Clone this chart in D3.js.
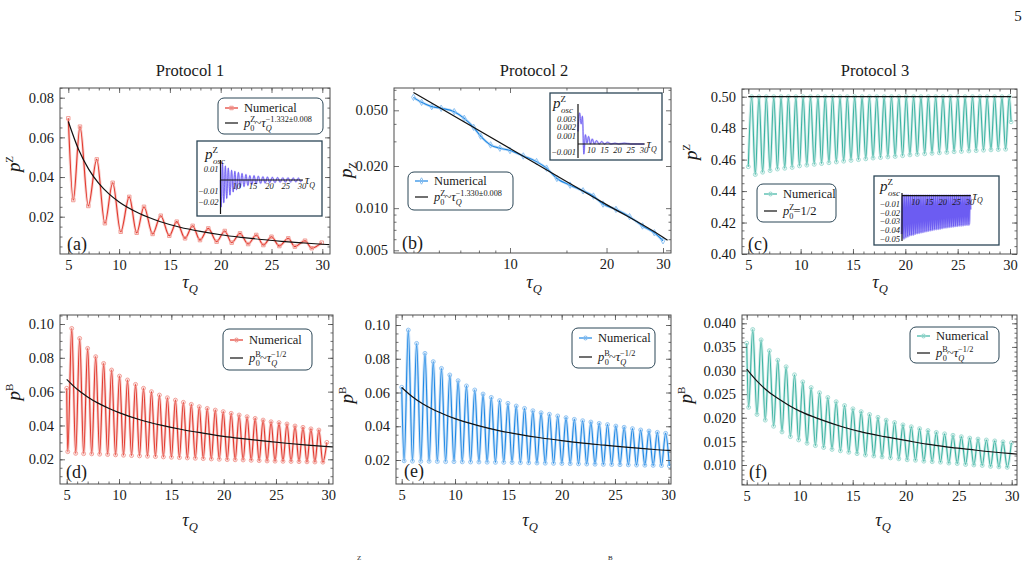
<!DOCTYPE html>
<html>
<head>
<meta charset="utf-8">
<script src="https://cdn.jsdelivr.net/npm/d3@7"></script>
<style>
  body { margin: 0; background: #fff; }
  svg { display: block; }
</style>
</head>
<body>
<svg id="fig" width="1028" height="562"></svg>
<script>
const SERIF = "'Liberation Serif','Times New Roman',serif";
const INK = "#1a1a1a";
const FRAME = "#4d4d4d";
const LEGBORDER = "#2b4656";
const PURPLE = "#6c5cf2";
const RED = { line: "#e2372c", halo: "#f0958d" };
const BLUE = { line: "#1e88e5", halo: "#86bdf0" };
const TEAL = { line: "#3bb3a2", halo: "#98d8ce" };

// ---------- data: protocol 1, p^Z (a) ----------
const aTau = [5.0, 5.49, 6.15, 6.97, 7.8, 8.6, 9.37, 10.16, 11.0, 11.73, 12.45, 13.3, 14.1, 14.94, 15.67, 16.49, 17.24, 17.96, 18.78, 19.6, 20.4, 21.08, 21.9, 22.7, 23.5, 24.2, 25.0, 25.77, 26.65, 27.3, 28.3, 28.96, 29.94];
const aP = [0.0696, 0.0284, 0.0654, 0.0254, 0.0489, 0.0167, 0.0371, 0.0124, 0.0300, 0.0119, 0.0250, 0.0113, 0.0205, 0.0104, 0.0175, 0.0091, 0.0154, 0.0082, 0.0141, 0.0074, 0.0128, 0.0069, 0.0116, 0.0062, 0.0108, 0.0057, 0.0099, 0.0052, 0.0091, 0.0049, 0.0079, 0.0041, 0.0069];
const aFitTau = [5, 6, 7, 8, 9, 10, 12, 14, 16, 18, 20, 22, 24, 26, 28, 30, 30.7];
const aFitP = [0.068, 0.0540, 0.0440, 0.0368, 0.0315, 0.0274, 0.0216, 0.0176, 0.0147, 0.0126, 0.0109, 0.0096, 0.0085, 0.0076, 0.0068, 0.0061, 0.0059];
const aOscTau = [5.0, 5.2, 5.6, 6.0, 6.5, 6.9, 7.4, 7.9, 8.4, 8.9, 9.4, 9.9, 10.5, 11.0, 11.6, 12.2, 12.8, 13.4, 14.0, 14.6, 15.3, 15.9, 16.6, 17.3, 18.0, 18.7, 19.4, 20.1, 20.9, 21.7, 22.5, 23.3, 24.1, 24.9, 25.7, 26.5, 27.3, 28.1, 28.9, 29.6, 30.0];
const aOscP = [0.000, -0.025, 0.016, -0.021, 0.013, -0.017, 0.011, -0.014, 0.009, -0.011, 0.008, -0.009, 0.007, -0.007, 0.006, -0.006, 0.005, -0.005, 0.004, -0.004, 0.004, -0.0035, 0.0035, -0.003, 0.003, -0.0028, 0.0028, -0.0025, 0.0025, -0.0023, 0.0023, -0.002, 0.002, -0.002, 0.002, -0.0018, 0.0018, -0.0017, 0.0017, -0.0015, 0.000];

// ---------- data: protocol 2, p_Z (b), log-log ----------
const bTau = [5, 5.3, 5.7, 6.1, 6.7, 7.2, 7.7, 8.1, 8.7, 9.3, 10, 11, 12.1, 13, 14, 15.4, 16.9, 18.2, 19.5, 21.4, 23.6, 25.9, 28.2, 30];
const bP = [0.0619, 0.057, 0.0531, 0.0517, 0.0489, 0.0438, 0.0378, 0.0327, 0.0283, 0.0268, 0.0258, 0.0236, 0.0215, 0.0193, 0.0163, 0.0146, 0.0133, 0.0122, 0.0107, 0.0098, 0.0087, 0.00746, 0.00667, 0.00585];
const bFitTau = [5, 10, 15, 20, 30, 31];
const bFitP = [0.067, 0.0267, 0.0155, 0.0106, 0.0062, 0.0059];
const bOscTau = [5.0, 5.6, 6.2, 6.7, 7.2, 7.8, 8.4, 9.0, 9.7, 10.4, 11.2, 12.0, 13.0, 14.0, 15.0, 16.2, 17.5, 19.0, 20.5, 22.5, 25.0, 27.5, 30.0];
const bOscP = [0.0015, 0.0037, 0.0024, 0.0033, -0.0012, 0.0011, 0.0001, 0.0009, 0.0, 0.0006, 0.0, 0.0004, 0.0, 0.0003, 0.0, 0.0002, 0.0, 0.0001, 0.0, 0.0001, 0.0, 0.0, 0.0];

// ---------- data: protocol 3, p^Z (c) ----------
const cStart = [5.0, 0.4555];
const cEnd = [30.1, 0.484];
const cPeakTau = [5.32, 6.02, 6.72, 7.43, 8.13, 8.83, 9.54, 10.24, 10.94, 11.65, 12.35, 13.05, 13.76, 14.46, 15.16, 15.87, 16.57, 17.27, 17.98, 18.68, 19.38, 20.09, 20.79, 21.49, 22.20, 22.90, 23.60, 24.31, 25.01, 25.71, 26.42, 27.12, 27.82, 28.53, 29.23, 29.93];
const cPeakP = [0.500, 0.500, 0.500, 0.500, 0.500, 0.500, 0.500, 0.500, 0.500, 0.500, 0.500, 0.500, 0.500, 0.500, 0.500, 0.500, 0.500, 0.500, 0.500, 0.500, 0.500, 0.500, 0.500, 0.500, 0.500, 0.500, 0.500, 0.500, 0.500, 0.500, 0.500, 0.500, 0.500, 0.500, 0.500, 0.500];
const cTroughTau = [5.67, 6.37, 7.08, 7.78, 8.48, 9.19, 9.89, 10.59, 11.30, 12.00, 12.70, 13.41, 14.11, 14.81, 15.52, 16.22, 16.92, 17.63, 18.33, 19.03, 19.74, 20.44, 21.14, 21.85, 22.55, 23.25, 23.96, 24.66, 25.36, 26.07, 26.77, 27.47, 28.18, 28.88, 29.58];
const cTroughP = [0.4505, 0.4520, 0.4530, 0.4540, 0.4545, 0.4550, 0.4560, 0.4565, 0.4570, 0.4575, 0.4580, 0.4585, 0.4590, 0.4595, 0.4600, 0.4605, 0.4610, 0.4613, 0.4617, 0.4620, 0.4625, 0.4630, 0.4633, 0.4637, 0.4640, 0.4643, 0.4646, 0.4650, 0.4652, 0.4655, 0.4657, 0.4660, 0.4662, 0.4664, 0.4666];
const cFitTau = [5, 30.1];
const cFitP = [0.5, 0.5];
const cP0 = 0.5;

// ---------- data: protocol 1, p^B (d) ----------
const dStart = [5.0, 0.062];
const dEnd = [29.86, 0.030];
const dPeakTau = [5.48, 6.24, 7.00, 7.77, 8.53, 9.29, 10.05, 10.81, 11.58, 12.34, 13.10, 13.86, 14.62, 15.39, 16.15, 16.91, 17.67, 18.43, 19.20, 19.96, 20.72, 21.48, 22.24, 23.01, 23.77, 24.53, 25.29, 26.05, 26.82, 27.58, 28.34, 29.10];
const dPeakP = [0.0974, 0.0915, 0.0856, 0.0807, 0.0767, 0.0728, 0.0692, 0.0669, 0.0643, 0.0620, 0.0600, 0.0580, 0.0564, 0.0550, 0.0537, 0.0525, 0.0511, 0.0501, 0.0491, 0.0482, 0.0472, 0.0462, 0.0452, 0.0442, 0.0432, 0.0422, 0.0417, 0.0409, 0.0397, 0.0389, 0.0380, 0.0373];
const dTroughTau = [5.10, 5.86, 6.62, 7.39, 8.15, 8.91, 9.67, 10.43, 11.20, 11.96, 12.72, 13.48, 14.24, 15.01, 15.77, 16.53, 17.29, 18.05, 18.82, 19.58, 20.34, 21.10, 21.86, 22.63, 23.39, 24.15, 24.91, 25.67, 26.44, 27.20, 27.96, 28.72, 29.48];
const dTroughP = [0.0245, 0.0235, 0.0233, 0.0232, 0.0230, 0.0228, 0.0226, 0.0224, 0.0222, 0.0220, 0.0218, 0.0216, 0.0214, 0.0212, 0.0210, 0.0208, 0.0206, 0.0204, 0.0202, 0.0200, 0.0198, 0.0197, 0.0196, 0.0194, 0.0192, 0.0190, 0.0189, 0.0188, 0.0187, 0.0186, 0.0185, 0.0184, 0.0183];
const dFitTau = [5, 6, 7, 8, 9, 10, 12, 14, 16, 18, 20, 22, 24, 26, 28, 30, 30.7];
const dFitP = [0.0673, 0.0614, 0.0569, 0.0532, 0.0502, 0.0476, 0.0434, 0.0402, 0.0376, 0.0355, 0.0336, 0.0321, 0.0307, 0.0295, 0.0284, 0.0275, 0.0272];

// ---------- data: protocol 2, p^B (e) ----------
const eStart = [5.0, 0.0631];
const ePeakTau = [5.62, 6.40, 7.18, 7.96, 8.73, 9.51, 10.29, 11.07, 11.85, 12.63, 13.40, 14.18, 14.96, 15.74, 16.52, 17.30, 18.07, 18.85, 19.63, 20.41, 21.19, 21.97, 22.74, 23.52, 24.30, 25.08, 25.86, 26.64, 27.41, 28.19, 28.97, 29.75];
const ePeakP = [0.0970, 0.0891, 0.0832, 0.0783, 0.0743, 0.0704, 0.0670, 0.0639, 0.0615, 0.0591, 0.0571, 0.0552, 0.0536, 0.0520, 0.0506, 0.0492, 0.0480, 0.0471, 0.0461, 0.0451, 0.0441, 0.0433, 0.0425, 0.0417, 0.0410, 0.0401, 0.0394, 0.0386, 0.0378, 0.0372, 0.0364, 0.0358];
const eTroughTau = [5.23, 6.01, 6.79, 7.57, 8.34, 9.12, 9.90, 10.68, 11.46, 12.24, 13.01, 13.79, 14.57, 15.35, 16.13, 16.91, 17.68, 18.46, 19.24, 20.02, 20.80, 21.58, 22.35, 23.13, 23.91, 24.69, 25.47, 26.25, 27.02, 27.80, 28.58, 29.36, 30.10];
const eTroughP = [0.0195, 0.0193, 0.0192, 0.0192, 0.0191, 0.0190, 0.0190, 0.0189, 0.0188, 0.0188, 0.0187, 0.0186, 0.0186, 0.0185, 0.0184, 0.0183, 0.0182, 0.0181, 0.0180, 0.0179, 0.0178, 0.0177, 0.0176, 0.0175, 0.0174, 0.0173, 0.0172, 0.0171, 0.0170, 0.0169, 0.0168, 0.0167, 0.0165];
const eFitTau = [5, 6, 7, 8, 9, 10, 12, 14, 16, 18, 20, 22, 24, 26, 28, 30, 30.3];
const eFitP = [0.0630, 0.0575, 0.0532, 0.0498, 0.0470, 0.0445, 0.0407, 0.0376, 0.0352, 0.0332, 0.0315, 0.0300, 0.0288, 0.0276, 0.0266, 0.0257, 0.0256];

// ---------- data: protocol 3, p^B (f) ----------
const fStart = [5.0, 0.0358];
const fPeakTau = [5.57, 6.36, 7.14, 7.93, 8.72, 9.51, 10.29, 11.08, 11.87, 12.65, 13.44, 14.23, 15.02, 15.80, 16.59, 17.38, 18.16, 18.95, 19.74, 20.53, 21.31, 22.10, 22.89, 23.67, 24.46, 25.25, 26.04, 26.82, 27.61, 28.40, 29.18, 29.97];
const fPeakP = [0.0387, 0.0365, 0.0342, 0.0322, 0.0308, 0.0291, 0.0276, 0.0264, 0.0253, 0.0243, 0.0234, 0.0226, 0.0219, 0.0213, 0.0207, 0.0201, 0.0195, 0.0190, 0.0185, 0.0181, 0.0177, 0.0173, 0.0169, 0.0166, 0.0163, 0.0160, 0.0157, 0.0155, 0.0153, 0.0151, 0.0149, 0.0147];
const fTroughTau = [5.18, 5.97, 6.75, 7.54, 8.33, 9.12, 9.90, 10.69, 11.48, 12.26, 13.05, 13.84, 14.63, 15.41, 16.20, 16.99, 17.77, 18.56, 19.35, 20.14, 20.92, 21.71, 22.50, 23.28, 24.07, 24.86, 25.65, 26.43, 27.22, 28.01, 28.79, 29.58];
const fTroughP = [0.0222, 0.0207, 0.0195, 0.0182, 0.0170, 0.0160, 0.0153, 0.0146, 0.0141, 0.0137, 0.0133, 0.0130, 0.0127, 0.0124, 0.0121, 0.0119, 0.0117, 0.0115, 0.0113, 0.0111, 0.0110, 0.0108, 0.0107, 0.0106, 0.0104, 0.0103, 0.0101, 0.0100, 0.0099, 0.0097, 0.0096, 0.0095];
const fFitTau = [5, 6, 7, 8, 9, 10, 12, 14, 16, 18, 20, 22, 24, 26, 28, 30, 30.6];
const fFitP = [0.0303, 0.0277, 0.0256, 0.0240, 0.0226, 0.0214, 0.0196, 0.0181, 0.0169, 0.0160, 0.0152, 0.0144, 0.0138, 0.0133, 0.0128, 0.0124, 0.0123];

// ---------- tick labels ----------
const tauTicks = [5, 10, 15, 20, 25, 30];
const tauLogTicks = [10, 20, 30];
const insetTauTicks = [10, 15, 20, 25, 30];

// ---------- helpers ----------
const svg = d3.select("#fig");
const zip = (t, v) => t.map((d, i) => [d, v[i]]);
const merge = (...parts) => parts.flat().sort((a, b) => a[0] - b[0]);

function mathText(parent, x, y, fs, pieces, anchor) {
  const t = parent.append("text").attr("x", x).attr("y", y)
    .attr("font-family", SERIF).attr("font-size", fs).attr("fill", INK)
    .attr("text-anchor", anchor || "start");
  let lvl = 0;
  pieces.forEach(([txt, o]) => {
    o = o || {};
    const small = o.sup || o.sub;
    const tgt = o.sup ? -fs * 0.42 : o.sub ? fs * 0.3 : 0;
    const s = t.append("tspan").text(txt)
      .attr("dy", tgt - lvl)
      .attr("font-size", small ? fs * (o.k || 0.66) : fs)
      .attr("font-style", o.it ? "italic" : "normal");
    if (o.dx) s.attr("dx", o.dx);
    lvl = tgt;
  });
  return t;
}

function panel(P) {
  P.g = svg.append("g");
  const fr = P.fr;
  const id = "clip-" + P.id;
  svg.append("clipPath").attr("id", id).append("rect")
    .attr("x", fr.l).attr("y", fr.t).attr("width", fr.r - fr.l).attr("height", fr.b - fr.t);
  P.plot = P.g.append("g").attr("clip-path", `url(#${id})`);
  return P;
}

function axes(P) {
  const { fr, x, y } = P;
  const inX = v => x(v) >= fr.l - 0.5 && x(v) <= fr.r + 0.5;
  const inY = v => y(v) >= fr.t - 0.5 && y(v) <= fr.b + 0.5;
  const xMaj = P.xMajor.filter(inX), xMin = P.xMinor.filter(inX);
  const yMaj = P.yMajor.filter(inY), yMin = P.yMinor.filter(inY);
  const specs = [
    [d3.axisBottom(x), `translate(0,${fr.b})`, xMaj, 5, P.xFmt],
    [d3.axisBottom(x), `translate(0,${fr.b})`, xMin, 2.5, null],
    [d3.axisTop(x), `translate(0,${fr.t})`, xMaj, 5, null],
    [d3.axisTop(x), `translate(0,${fr.t})`, xMin, 2.5, null],
    [d3.axisLeft(y), `translate(${fr.l},0)`, yMaj, 5, P.yFmt],
    [d3.axisLeft(y), `translate(${fr.l},0)`, yMin, 2.5, null],
    [d3.axisRight(y), `translate(${fr.r},0)`, yMaj, 5, null],
    [d3.axisRight(y), `translate(${fr.r},0)`, yMin, 2.5, null]
  ];
  specs.forEach(([ax, tr, vals, len, fmt]) => {
    ax.tickValues(vals).tickSize(-len).tickPadding(fmt ? 6 : 0).tickFormat(fmt || (() => ""));
    const s = P.g.append("g").attr("transform", tr).call(ax);
    s.select(".domain").remove();
    s.selectAll(".tick line").attr("stroke", FRAME).attr("stroke-width", 0.8);
    s.selectAll(".tick text").attr("font-family", SERIF).attr("font-size", 14.5).attr("fill", INK);
  });
  P.g.append("rect").attr("x", fr.l).attr("y", fr.t)
    .attr("width", fr.r - fr.l).attr("height", fr.b - fr.t)
    .attr("fill", "none").attr("stroke", FRAME).attr("stroke-width", 1);
}

function numerical(P, pts, col, symType) {
  const line = d3.line().x(d => P.x(d[0])).y(d => P.y(d[1])).curve(d3.curveMonotoneX);
  P.plot.append("path").attr("d", line(pts)).attr("fill", "none")
    .attr("stroke", col.halo).attr("stroke-width", 2.8).attr("stroke-opacity", 0.45)
    .attr("stroke-linejoin", "round");
  P.plot.append("path").attr("d", line(pts)).attr("fill", "none")
    .attr("stroke", col.line).attr("stroke-width", 1.1);
  const sym = d3.symbol().type(symType).size(12);
  P.plot.selectAll(null).data(pts).join("path")
    .attr("transform", d => `translate(${P.x(d[0])},${P.y(d[1])})`)
    .attr("d", sym).attr("fill", "none").attr("stroke", col.halo).attr("stroke-width", 0.9);
}

function fit(P, pts) {
  const line = d3.line().x(d => P.x(d[0])).y(d => P.y(d[1])).curve(d3.curveMonotoneX);
  P.plot.append("path").attr("d", line(pts)).attr("fill", "none")
    .attr("stroke", "#111").attr("stroke-width", 1.2);
}

function legend(box, col, symType, fitPieces, rows) {
  const g = svg.append("g");
  g.append("rect").attr("x", box.x).attr("y", box.y).attr("width", box.w).attr("height", box.h)
    .attr("rx", 6).attr("fill", "#fff").attr("stroke", LEGBORDER).attr("stroke-width", 1);
  const lx = box.x + 7, tx = box.x + 26;
  g.append("line").attr("x1", lx).attr("x2", lx + 13).attr("y1", rows[0] - 4).attr("y2", rows[0] - 4)
    .attr("stroke", col.line).attr("stroke-width", 1.2);
  g.append("path").attr("transform", `translate(${lx + 6.5},${rows[0] - 4})`)
    .attr("d", d3.symbol().type(symType).size(12)).attr("fill", "none").attr("stroke", col.halo);
  g.append("text").attr("x", tx).attr("y", rows[0]).attr("font-family", SERIF)
    .attr("font-size", 12.5).attr("fill", INK).text("Numerical");
  g.append("line").attr("x1", lx).attr("x2", lx + 13).attr("y1", rows[1] - 4).attr("y2", rows[1] - 4)
    .attr("stroke", "#111").attr("stroke-width", 1.2);
  mathText(g, tx, rows[1], 12.5, fitPieces);
}

function inset(I) {
  const g = svg.append("g");
  g.append("rect").attr("x", I.box.x).attr("y", I.box.y).attr("width", I.box.w).attr("height", I.box.h)
    .attr("fill", "#fff").attr("stroke", LEGBORDER).attr("stroke-width", 1.3);
  const line = d3.line().x(d => I.x(d[0])).y(d => I.y(d[1])).curve(d3.curveMonotoneX);
  g.append("path").attr("d", line(I.pts)).attr("fill", "none")
    .attr("stroke", PURPLE).attr("stroke-opacity", I.haloOp || 0.35).attr("stroke-width", I.halo || 2);
  g.append("path").attr("d", line(I.pts)).attr("fill", "none")
    .attr("stroke", PURPLE).attr("stroke-width", I.lw || 0.9);
  const x0 = I.x(5), y0 = I.y(0);
  g.append("line").attr("x1", x0).attr("x2", x0).attr("y1", I.vTop).attr("y2", I.vBot)
    .attr("stroke", "#111").attr("stroke-width", 1.2);
  g.append("line").attr("x1", x0).attr("x2", I.x(30.3)).attr("y1", y0).attr("y2", y0)
    .attr("stroke", "#111").attr("stroke-width", 1.2);
  g.selectAll(null).data(I.yTicks).join("text")
    .attr("x", x0 - 2).attr("y", d => I.y(d)).attr("dy", "0.35em").attr("text-anchor", "end")
    .attr("font-family", SERIF).attr("font-style", "italic").attr("font-size", 8.5).attr("fill", INK)
    .text(d => I.yFmt(d).replace("-", "\u2212"));
  g.selectAll(null).data(insetTauTicks).join("text")
    .attr("x", d => I.x(d)).attr("y", y0 + 9).attr("text-anchor", "middle")
    .attr("font-family", SERIF).attr("font-style", "italic").attr("font-size", 8.5).attr("fill", INK)
    .text(d => d);
  mathText(g, I.x(30.3) + 2, y0 + 4, 12, [["\u03c4", { it: 1 }], ["Q", { sub: 1, it: 1 }]]);
  mathText(g, I.lab[0], I.lab[1], 15, [["p", { it: 1 }], ["Z", { sup: 1, k: 0.6 }], ["osc", { sub: 1, it: 1, k: 0.6, dx: -5 }]]);
}

function yTitle(x, y, script, sub) {
  const t = svg.append("text").attr("transform", `translate(${x},${y}) rotate(-90)`)
    .attr("text-anchor", "middle").attr("font-family", SERIF).attr("font-size", 19).attr("fill", INK);
  t.append("tspan").attr("font-style", "italic").text("p");
  t.append("tspan").attr("font-size", 11).attr("dy", sub ? 4 : -7).text(script);
}

function xTitle(x, y) {
  mathText(svg, x, y, 18, [["\u03c4", { it: 1 }], ["Q", { sub: 1, it: 1, k: 0.7 }]], "middle");
}

function panelLabel(x, y, s) {
  svg.append("text").attr("x", x).attr("y", y).attr("font-family", SERIF)
    .attr("font-size", 18).attr("fill", INK).text(s);
}

const f2 = d3.format(".2f"), f3 = d3.format(".3f"), fi = d3.format("d");
const tauMinor = d3.range(4, 32, 1);

// ---------- titles ----------
[["Protocol 1", 190], ["Protocol 2", 534], ["Protocol 3", 875]].forEach(([s, x]) => {
  svg.append("text").attr("x", x).attr("y", 76).attr("text-anchor", "middle")
    .attr("font-family", SERIF).attr("font-size", 16.5).attr("fill", INK).text(s);
});
svg.append("text").attr("x", 1018).attr("y", 21).attr("text-anchor", "middle")
  .attr("font-family", SERIF).attr("font-size", 15).attr("fill", INK).text("5");

// ---------- (a) ----------
const A = panel({
  id: "a", fr: { l: 60, t: 88, r: 330, b: 254 },
  x: d3.scaleLinear().domain([5, 30]).range([68.3, 322.3]),
  y: d3.scaleLinear().domain([0.02, 0.08]).range([216.7, 97.7]),
  xMajor: tauTicks, xMinor: tauMinor, xFmt: fi,
  yMajor: [0.02, 0.04, 0.06, 0.08], yMinor: d3.range(0, 0.09, 0.005), yFmt: f2
});
numerical(A, zip(aTau, aP), RED, d3.symbolSquare);
fit(A, zip(aFitTau, aFitP));
axes(A);

// ---------- (b) ----------
const B = panel({
  id: "b", fr: { l: 394, t: 88, r: 671, b: 253 },
  x: d3.scaleLog().domain([10, 30]).range([510, 663]),
  y: d3.scaleLog().domain([0.005, 0.05]).range([250.3, 110.3]),
  xMajor: tauLogTicks, xMinor: [5, 6, 7, 8, 9, 15, 25], xFmt: fi,
  yMajor: [0.005, 0.01, 0.02, 0.05], yMinor: [0.006, 0.007, 0.008, 0.009, 0.03, 0.04, 0.06, 0.07], yFmt: f3
});
numerical(B, zip(bTau, bP), BLUE, d3.symbolDiamond);
fit(B, zip(bFitTau, bFitP));
axes(B);

// ---------- (c) ----------
const cSeries = merge([cStart], zip(cPeakTau, cPeakP), zip(cTroughTau, cTroughP), [cEnd]);
const C = panel({
  id: "c", fr: { l: 742, t: 89, r: 1017, b: 254 },
  x: d3.scaleLinear().domain([5, 30]).range([748.3, 1010]),
  y: d3.scaleLinear().domain([0.40, 0.50]).range([254, 96.7]),
  xMajor: tauTicks, xMinor: tauMinor, xFmt: fi,
  yMajor: [0.40, 0.42, 0.44, 0.46, 0.48, 0.50], yMinor: d3.range(0.40, 0.51, 0.005), yFmt: f2
});
numerical(C, cSeries, TEAL, d3.symbolCircle);
fit(C, zip(cFitTau, cFitP));
axes(C);

// ---------- (d) ----------
const D = panel({
  id: "d", fr: { l: 60, t: 315, r: 333, b: 484 },
  x: d3.scaleLinear().domain([5, 30]).range([66.7, 328.3]),
  y: d3.scaleLinear().domain([0.02, 0.10]).range([459.3, 324]),
  xMajor: tauTicks, xMinor: tauMinor, xFmt: fi,
  yMajor: [0.02, 0.04, 0.06, 0.08, 0.10], yMinor: d3.range(0, 0.11, 0.005), yFmt: f2
});
numerical(D, merge([dStart], zip(dPeakTau, dPeakP), zip(dTroughTau, dTroughP), [dEnd]), RED, d3.symbolCircle);
fit(D, zip(dFitTau, dFitP));
axes(D);

// ---------- (e) ----------
const E = panel({
  id: "e", fr: { l: 396, t: 315, r: 671, b: 484 },
  x: d3.scaleLinear().domain([5, 30]).range([401.7, 668.3]),
  y: d3.scaleLinear().domain([0.02, 0.10]).range([460, 325]),
  xMajor: tauTicks, xMinor: tauMinor, xFmt: fi,
  yMajor: [0.02, 0.04, 0.06, 0.08, 0.10], yMinor: d3.range(0, 0.11, 0.005), yFmt: f2
});
numerical(E, merge([eStart], zip(ePeakTau, ePeakP), zip(eTroughTau, eTroughP)), BLUE, d3.symbolCircle);
fit(E, zip(eFitTau, eFitP));
axes(E);

// ---------- (f) ----------
const F = panel({
  id: "f", fr: { l: 742, t: 315, r: 1017, b: 485 },
  x: d3.scaleLinear().domain([5, 30]).range([746.7, 1011.7]),
  y: d3.scaleLinear().domain([0.010, 0.040]).range([465, 323.3]),
  xMajor: tauTicks, xMinor: tauMinor, xFmt: fi,
  yMajor: [0.010, 0.015, 0.020, 0.025, 0.030, 0.035, 0.040], yMinor: d3.range(0.005, 0.042, 0.001), yFmt: f3
});
numerical(F, merge([fStart], zip(fPeakTau, fPeakP), zip(fTroughTau, fTroughP)), TEAL, d3.symbolCircle);
fit(F, zip(fFitTau, fFitP));
axes(F);

// ---------- insets ----------
inset({
  box: { x: 197, y: 141, w: 125, h: 75 },
  x: d3.scaleLinear().domain([5, 30]).range([220.5, 302]),
  y: d3.scaleLinear().domain([0, 0.01]).range([180, 169.2]),
  pts: zip(aOscTau, aOscP), vTop: 160, vBot: 214,
  yTicks: [0.01, -0.01, -0.02], yFmt: f2, lab: [205, 159]
});
inset({
  box: { x: 550, y: 93, w: 112, h: 67 },
  x: d3.scaleLinear().domain([5, 30]).range([578, 644]),
  y: d3.scaleLinear().domain([0, 0.001]).range([144, 135.6]),
  pts: zip(bOscTau, bOscP), vTop: 104, vBot: 158,
  yTicks: [0.003, 0.002, 0.001, -0.001], yFmt: f3, lab: [553, 108]
});
inset({
  box: { x: 874, y: 176, w: 125, h: 69 },
  x: d3.scaleLinear().domain([5, 30]).range([902, 970]),
  y: d3.scaleLinear().domain([0, -0.01]).range([195.7, 204.3]),
  pts: cSeries.map(d => [d[0], d[1] - cP0]), vTop: 193, vBot: 241,
  halo: 3, haloOp: 0.55, lw: 1.3,
  yTicks: [-0.01, -0.02, -0.03, -0.04, -0.05], yFmt: f2, lab: [880, 191]
});

// ---------- legends ----------
const expZ = (e) => [["p", { it: 1 }], ["Z", { sup: 1 }], ["0", { sub: 1, dx: -5 }], ["~"],
  ["\u03c4", { it: 1 }], ["Q", { sub: 1, it: 1 }], [e, { sup: 1, dx: -6 }]];
const expB = [["p", { it: 1 }], ["B", { sup: 1 }], ["0", { sub: 1, dx: -5 }], ["~"],
  ["\u03c4", { it: 1 }], ["Q", { sub: 1, it: 1 }], ["\u22121/2", { sup: 1, dx: -6 }]];
legend({ x: 218, y: 98, w: 105, h: 36 }, RED, d3.symbolSquare, expZ("\u22121.332\u00b10.008"), [112, 127]);
legend({ x: 408, y: 172, w: 105, h: 38 }, BLUE, d3.symbolDiamond, expZ("\u22121.330\u00b10.008"), [185, 201]);
legend({ x: 757, y: 184, w: 79, h: 38 }, TEAL, d3.symbolCircle,
  [["p", { it: 1 }], ["Z", { sup: 1 }], ["0", { sub: 1, dx: -5 }], ["=1/2"]], [198, 215]);
legend({ x: 223, y: 329, w: 89, h: 41 }, RED, d3.symbolCircle, expB, [344, 362]);
legend({ x: 572, y: 328, w: 83, h: 40 }, BLUE, d3.symbolCircle, expB, [342, 361]);
legend({ x: 910, y: 327, w: 89, h: 36 }, TEAL, d3.symbolCircle, expB, [340, 357]);

// ---------- axis titles and panel tags ----------
yTitle(20, 164, "Z", false);
yTitle(352, 170, "Z", true);
yTitle(697, 152, "Z", false);
yTitle(20, 392, "B", false);
yTitle(353, 395, "B", false);
yTitle(692, 395, "B", false);
xTitle(190, 288); xTitle(534, 288); xTitle(880, 288);
xTitle(190, 526); xTitle(530, 526); xTitle(883, 526);
panelLabel(67, 250, "(a)"); panelLabel(402, 249, "(b)"); panelLabel(748, 250, "(c)");
panelLabel(66, 478, "(d)"); panelLabel(404, 477, "(e)"); panelLabel(749, 478, "(f)");

// start of the caption line below the figure
[["Z", 357], ["B", 608]].forEach(([s, x]) => {
  svg.append("text").attr("x", x).attr("y", 560).attr("font-family", SERIF)
    .attr("font-size", 7).attr("fill", INK).text(s);
});
</script>
</body>
</html>
